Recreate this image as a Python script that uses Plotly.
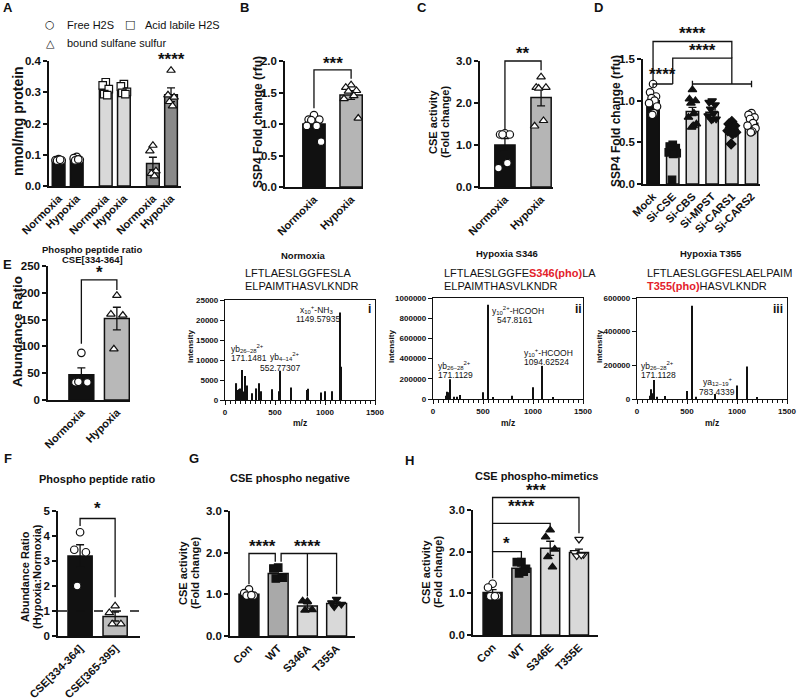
import plotly.graph_objects as go

W, H = 797, 699
FONT = "Liberation Sans, Arial, Helvetica, sans-serif"
BLACK = "#111111"
RED = "#e3212b"
LIGHT = "#d9d9d9"
MID = "#a9a9a9"
DARK = "#8a8a8a"

# ======================= DATA =======================
# Panel A
A_groups = ["Normoxia", "Hypoxia"]
A_series = ["Free H2S", "Acid labile H2S", "bound sulfane sulfur"]
A_mean = [[0.083, 0.086], [0.310, 0.305], [0.072, 0.292]]
A_sem = [[0.003, 0.004], [0.010, 0.007], [0.020, 0.022]]
A_pts = [
    [[0.086, 0.083, 0.082, 0.081, 0.084], [0.093, 0.089, 0.084, 0.082, 0.085]],
    [[0.332, 0.322, 0.310, 0.294, 0.291], [0.326, 0.319, 0.301, 0.298, 0.294]],
    [[0.130, 0.112, 0.048, 0.040, 0.032], [0.370, 0.291, 0.284, 0.270, 0.256]],
]
A_star = (0.408, "****")

# Panel B
B_cats = ["Normoxia", "Hypoxia"]
B_mean = [1.00, 1.46]
B_sem = [0.06, 0.07]
B_pts = [[1.14, 1.07, 1.07, 1.06, 0.97, 0.97, 0.72],
         [1.62, 1.58, 1.53, 1.52, 1.45, 1.40, 1.09]]
B_brackets = [(0, 1, 1.86, 1.25, 1.72)]
B_stars = [(0.5, 1.98, "***")]

# Panel C
C_cats = ["Normoxia", "Hypoxia"]
C_mean = [1.00, 2.13]
C_sem = [0.15, 0.20]
C_pts = [[1.28, 1.25, 1.25, 1.25, 0.57, 0.45],
         [2.62, 2.37, 2.37, 2.35, 1.58, 1.45]]
C_brackets = [(0, 1, 3.0, 1.35, 2.78)]
C_stars = [(0.5, 3.2, "**")]

# Panel D
D_cats = ["Mock", "Si-CSE", "Si-CBS", "Si-MPST", "Si-CARS1", "Si-CARS2"]
D_mean = [1.00, 0.36, 0.87, 0.86, 0.65, 0.73]
D_sem = [0.04, 0.04, 0.05, 0.03, 0.03, 0.03]
D_pts = [[1.20, 1.10, 1.05, 1.03, 1.00, 0.97, 0.93, 0.85, 0.83],
         [0.47, 0.45, 0.43, 0.42, 0.40, 0.38, 0.37, 0.36, 0.05],
         [1.13, 1.02, 1.00, 0.97, 0.85, 0.80, 0.72, 0.70, 0.68],
         [1.00, 0.98, 0.95, 0.90, 0.85, 0.82, 0.78, 0.78, 0.77],
         [0.75, 0.72, 0.70, 0.68, 0.66, 0.64, 0.62, 0.60, 0.48],
         [0.85, 0.83, 0.80, 0.78, 0.73, 0.70, 0.67, 0.63, 0.62]]
D_brackets = [(0, 1, 1.20, 1.16, 1.20), (1, 4, 1.51, 1.20, 1.20), (0, 4, 1.71, 1.24, 1.51)]
D_group = [(2, 5, 1.20, 0.04)]
D_stars = [(0.5, 1.32, "****"), (2.5, 1.61, "****"), (2.0, 1.82, "****")]

# Panel E (left)
E_cats = ["Normoxia", "Hypoxia"]
E_mean = [47, 152]
E_sem = [13, 21]
E_pts = [[88, 33, 33, 34], [195, 160, 158, 95]]
E_brackets = [(0, 1, 224, 105, 205)]
E_stars = [(0.5, 240, "*")]

# Spectra
S1_mz = [115, 125, 138, 148, 171.1, 187, 200, 220, 269, 315, 344, 364, 466, 475, 540,
         552.8, 662, 820, 830, 961, 1000, 1066, 1149.6, 1163]
S1_int = [4200, 2500, 2700, 2900, 7500, 2100, 6000, 3600, 1700, 2900, 4200, 2200, 2700, 1900, 2200,
          7300, 3100, 2500, 2800, 1900, 2200, 2200, 21900, 8300]
S2_mz = [127, 140, 160, 171.1, 207, 240, 273, 500, 547.8, 600, 793, 1000, 1094.6, 1200]
S2_int = [33000, 73000, 66000, 195000, 23000, 23000, 40000, 66000, 933000, 20000, 33000, 116000, 328000, 15000]
S3_mz = [127, 143, 160, 171.1, 200, 277, 500, 547, 593, 783.4, 1000, 1100, 1200]
S3_int = [20000, 58000, 34000, 113000, 14000, 18000, 48000, 554000, 14000, 30000, 80000, 193000, 10000]

# Panel F
F_cats = ["CSE[334-364]", "CSE[365-395]"]
F_mean = [3.20, 0.78]
F_sem = [0.45, 0.18]
F_pts = [[4.15, 3.45, 3.35, 2.00], [1.20, 0.93, 0.48, 0.48]]
F_ref = 1.0
F_brackets = [(0, 1, 4.7, 4.4, 1.55)]
F_stars = [(0.5, 5.16, "*")]

# Panel G
G_cats = ["Con", "WT", "S346A", "T355A"]
G_mean = [1.00, 1.50, 0.72, 0.78]
G_sem = [0.03, 0.05, 0.05, 0.04]
G_pts = [[1.12, 1.03, 0.97, 0.97, 0.98], [1.64, 1.62, 1.40, 1.38],
         [0.83, 0.84, 0.63, 0.62], [0.88, 0.80, 0.76, 0.70]]
G_brackets = [(0, 0.9, 1.98, 1.24, 1.78), (1.1, 3, 1.98, 1.78, 1.0)]
G_legs = [(2, 1.98, 0.95)]
G_stars = [(0.45, 2.18, "****"), (2.0, 2.18, "****")]

# Panel H
H_cats = ["Con", "WT", "S346E", "T355E"]
H_mean = [1.02, 1.60, 2.08, 1.98]
H_sem = [0.07, 0.06, 0.17, 0.08]
H_pts = [[1.23, 1.14, 0.93, 0.93, 0.93], [1.75, 1.75, 1.59, 1.48, 1.52],
         [2.52, 2.35, 2.06, 1.88, 1.63], [2.30, 1.98, 1.93, 1.90, 1.92]]
H_brackets = [(0, 1, 2.0, 1.36, 1.84), (0, 2, 2.68, 2.0, 2.6), (0, 3, 3.3, 2.68, 2.44)]
H_stars = [(0.5, 2.22, "*"), (1.0, 3.12, "****"), (1.5, 3.5, "***")]

# ======================= HELPERS =======================
JIT = [0.0, -0.24, 0.24, -0.12, 0.12, -0.32, 0.32, 0.06, -0.06]
traces = []
axes = {}
annotations = []
count = [0]


def add_axes(xbox, ybox, xr, yr, xs, ys):
    count[0] += 1
    n = count[0]
    s = "" if n == 1 else str(n)
    axes["xaxis" + s] = dict(domain=[xbox[0] / W, xbox[1] / W], range=list(xr),
                             anchor="y" + s, fixedrange=True, automargin=False, **xs)
    axes["yaxis" + s] = dict(domain=[1 - ybox[1] / H, 1 - ybox[0] / H], range=list(yr),
                             anchor="x" + s, fixedrange=True, automargin=False, **ys)
    return "x" + s, "y" + s


def fnt(size, bold=True, color=BLACK, family=FONT):
    return dict(family=family, size=size, color=color, weight="bold" if bold else "normal")


def ystyle(dtick, fmt, size=11.5):
    return dict(showline=True, linecolor=BLACK, linewidth=1.5, ticks="outside", ticklen=4,
                tickwidth=1.5, tickcolor=BLACK, tickmode="linear", tick0=0, dtick=dtick,
                tickformat=fmt, tickfont=fnt(size), showgrid=False, zeroline=False)


def xstyle(vals, texts, size=11):
    return dict(showline=True, linecolor=BLACK, linewidth=1.5, ticks="", tickmode="array",
                tickvals=vals, ticktext=texts, tickangle=-45, tickfont=fnt(size),
                showgrid=False, zeroline=False)


HID = dict(visible=False)


def text(x, y, t, size, bold=False, angle=0, xanchor="center", yanchor="middle", family=FONT):
    annotations.append(dict(x=x / W, y=1 - y / H, xref="paper", yref="paper", text=t,
                            showarrow=False, textangle=angle, xanchor=xanchor, yanchor=yanchor,
                            font=fnt(size, bold, family=family)))


def points(xa, ya, x, vals, sym, fill, bw, size=7.5):
    xs = [x + JIT[k % len(JIT)] * bw for k in range(len(vals))]
    traces.append(go.Scatter(x=xs, y=vals, mode="markers", cliponaxis=False,
                             marker=dict(symbol=sym, size=size, color=fill,
                                         line=dict(color=BLACK, width=1.2)),
                             xaxis=xa, yaxis=ya, showlegend=False, hoverinfo="skip"))


def overlay(xbox, ybox, xr, yr, extra=46):
    top = ybox[0] - extra
    scale = (yr[1] - yr[0]) / (ybox[1] - ybox[0])
    yr2 = [yr[0], yr[0] + scale * (ybox[1] - top)]
    return add_axes(xbox, (top, ybox[1]), xr, yr2, HID, HID)


def draw_sig(ox, oy, brackets=(), stars=(), legs=(), groups=()):
    for (a, b, h, la, lb) in brackets:
        traces.append(go.Scatter(x=[a, a, b, b], y=[la, h, h, lb], mode="lines",
                                 line=dict(color=BLACK, width=1.3), xaxis=ox, yaxis=oy,
                                 showlegend=False, hoverinfo="skip"))
    for (x, h, lo) in legs:
        traces.append(go.Scatter(x=[x, x], y=[h, lo], mode="lines",
                                 line=dict(color=BLACK, width=1.3), xaxis=ox, yaxis=oy,
                                 showlegend=False, hoverinfo="skip"))
    for (a, b, h, cap) in groups:
        traces.append(go.Scatter(x=[a, a, a, b, b, b], y=[h - cap, h + cap, h, h, h + cap, h - cap],
                                 mode="lines", line=dict(color=BLACK, width=1.3), xaxis=ox, yaxis=oy,
                                 showlegend=False, hoverinfo="skip"))
    for (x, y, t) in stars:
        annotations.append(dict(x=x, y=y, xref=ox, yref=oy, text=t, showarrow=False,
                                font=fnt(17), yshift=-1))


def bar_panel(xbox, ybox, xr, yr, dtick, fmt, labels, means, sems, colors, pts, syms, fills,
              bw, brackets=(), stars=(), legs=(), groups=()):
    xpos = list(range(len(labels)))
    xa, ya = add_axes(xbox, ybox, xr, yr, xstyle(xpos, labels), ystyle(dtick, fmt))
    traces.append(go.Bar(x=xpos, y=means, width=bw,
                         marker=dict(color=colors, line=dict(color=BLACK, width=1.5)),
                         error_y=dict(type="data", array=sems, color=BLACK, thickness=1.3, width=4),
                         xaxis=xa, yaxis=ya, showlegend=False, hoverinfo="skip"))
    for i, p in enumerate(pts):
        points(xa, ya, xpos[i], p, syms[i], fills[i], bw)
    ox, oy = overlay(xbox, ybox, xr, yr)
    draw_sig(ox, oy, brackets, stars, legs, groups)
    return xa, ya, ox, oy


# ======================= PANEL A =======================
A_box_x, A_box_y = (49, 181), (61, 186)
A_step = 2.6
A_xpos = [[s * A_step + g for g in range(len(A_groups))] for s in range(len(A_series))]
A_colors = [BLACK, LIGHT, DARK]
A_syms = ["circle", "square", "triangle-up"]
xa, ya = add_axes(A_box_x, A_box_y, (-0.53, 6.75), (0, 0.4),
                  xstyle([v for row in A_xpos for v in row], A_groups * len(A_series)),
                  ystyle(0.1, ".1f"))
for s in range(len(A_series)):
    traces.append(go.Bar(x=A_xpos[s], y=A_mean[s], width=0.7,
                         marker=dict(color=A_colors[s], line=dict(color=BLACK, width=1.5)),
                         error_y=dict(type="data", array=A_sem[s], color=BLACK, thickness=1.3, width=4),
                         xaxis=xa, yaxis=ya, showlegend=False, hoverinfo="skip"))
for s in range(len(A_series)):
    for g in range(len(A_groups)):
        points(xa, ya, A_xpos[s][g], A_pts[s][g], A_syms[s], "white", 0.7)
oxa, oya = overlay(A_box_x, A_box_y, (-0.53, 6.75), (0, 0.4))
draw_sig(oxa, oya, stars=[(A_xpos[2][1], A_star[0], A_star[1])])
text(18, 121, "nmol/mg protein", 14, True, -90)
# legend
text(50, 25, "○", 11, family="DejaVu Sans")
text(65, 25, A_series[0], 11, xanchor="left")
text(130, 25, "□", 11, family="DejaVu Sans")
text(143, 25, A_series[1], 11, xanchor="left")
text(50, 43, "△", 11, family="DejaVu Sans")
text(65, 43, A_series[2], 11, xanchor="left")

# ======================= PANEL B =======================
bar_panel((285, 363), (61, 187), (-0.78, 1.32), (0, 2.0), 0.5, ".1f", B_cats, B_mean, B_sem,
          [BLACK, "#b5b5b5"], B_pts, ["circle", "triangle-up"], ["white", "white"], 0.6,
          B_brackets, B_stars)
text(258, 122, "SSP4 Fold change (rfu)", 12, True, -90)

# ======================= PANEL C =======================
bar_panel((480, 553), (61, 187), (-0.69, 1.33), (0, 3.0), 1, ".1f", C_cats, C_mean, C_sem,
          [BLACK, "#b5b5b5"], C_pts, ["circle", "triangle-up"], ["white", "white"], 0.56,
          C_brackets, C_stars)
text(433, 122, "CSE activity", 11, True, -90)
text(445, 122, "(Fold change)", 11, True, -90)

# ======================= PANEL D =======================
bar_panel((643, 760), (59, 184), (-0.51, 5.43), (0, 1.5), 0.5, ".1f", D_cats, D_mean, D_sem,
          [BLACK, LIGHT, LIGHT, LIGHT, LIGHT, LIGHT], D_pts,
          ["circle", "square", "triangle-up", "triangle-down", "diamond", "circle"],
          ["white", BLACK, BLACK, BLACK, BLACK, "white"], 0.63,
          D_brackets, D_stars, groups=D_group)
text(616, 121, "SSP4 Fold change (rfu)", 12, True, -90)

# ======================= PANEL E =======================
bar_panel((48, 130), (266, 400), (-0.94, 1.37), (0, 250), 50, "d", E_cats, E_mean, E_sem,
          [BLACK, "#b8b8b8"], E_pts, ["circle", "triangle-up"], ["white", "white"], 0.7,
          E_brackets, E_stars)
text(17, 332, "Abundance Ratio", 13.5, True, -90)
text(92, 249, "Phospho peptide ratio", 9.5, True)
text(92, 259, "CSE[334-364]", 9.5, True)


# ======================= SPECTRA =======================
def spec_panel(xbox, ybox, ymax, ydtick, mz, inten):
    xs = dict(showline=True, mirror=True, linecolor=BLACK, linewidth=1.3, ticks="outside",
              ticklen=4, tickwidth=1.2, tickcolor=BLACK, tickmode="linear", tick0=0, dtick=500,
              tickfont=fnt(8), showgrid=False, zeroline=False,
              minor=dict(tickmode="linear", tick0=0, dtick=50, ticks="outside", ticklen=2.5,
                         tickwidth=1, tickcolor=BLACK, showgrid=False))
    ys = dict(showline=True, mirror=True, linecolor=BLACK, linewidth=1.3, ticks="outside",
              ticklen=4, tickwidth=1.2, tickcolor=BLACK, tickmode="linear", tick0=0, dtick=ydtick,
              tickformat="d", tickfont=fnt(8), showgrid=False, zeroline=False)
    xa, ya = add_axes(xbox, ybox, (0, 1500), (0, ymax), xs, ys)
    traces.append(go.Bar(x=mz, y=inten, width=11, marker=dict(color=BLACK, line=dict(width=0)),
                         xaxis=xa, yaxis=ya, showlegend=False, hoverinfo="skip"))
    return xa, ya


spec_panel((225, 375), (300, 400), 25000, 5000, S1_mz, S1_int)
spec_panel((433, 583), (298, 399), 1000000, 200000, S2_mz, S2_int)
spec_panel((637, 787), (298, 399), 600000, 200000, S3_mz, S3_int)

# spectrum titles / sequences
text(303, 255, "Normoxia", 9.5, True)
text(507, 254, "Hypoxia S346", 9.5, True)
text(711, 254, "Hypoxia T355", 9.5, True)
text(243, 273, "LFTLAESLGGFESLA", 11, xanchor="left")
text(243, 286, "ELPAIMTHASVLKNDR", 11, xanchor="left")
text(442, 273, "LFTLAESLGGFE<span style='color:%s'><b>S346(pho)</b></span>LA" % RED, 11, xanchor="left")
text(442, 286, "ELPAIMTHASVLKNDR", 11, xanchor="left")
text(645, 273, "LFTLAESLGGFESLAELPAIM", 11, xanchor="left")
text(645, 286, "<span style='color:%s'><b>T355(pho)</b></span>HASVLKNDR" % RED, 11, xanchor="left")
for cx, ax_x in [(190, 300), (391, 508), (599, 712)]:
    text(cx, 347, "Intensity", 8, True, -90)
    text(ax_x, 423, "m/z", 8.5, True)
# spectrum peak labels
text(316, 309, "x<sub>10</sub><sup>+</sup>-NH<sub>3</sub>", 8.5)
text(318, 319, "1149.57935", 8.5)
text(229, 348, "yb<sub>26–28</sub><sup>2+</sup>", 8.5, xanchor="left")
text(229, 358, "171.1481", 8.5, xanchor="left")
text(268, 356, "yb<sub>4–14</sub><sup>2+</sup>", 8.5, xanchor="left")
text(280, 368, "552.77307", 8.5)
text(369, 309, "i", 12, True)
text(490, 310, "y<sub>10</sub><sup>2+</sup>-HCOOH", 8.5, xanchor="left")
text(515, 320, "547.8161", 8.5)
text(548, 352, "y<sub>10</sub><sup>+</sup>-HCOOH", 8.5)
text(546, 362, "1094.62524", 8.5)
text(436, 365, "yb<sub>26–28</sub><sup>2+</sup>", 8.5, xanchor="left")
text(436, 375, "171.1129", 8.5, xanchor="left")
text(578, 309, "ii", 12, True)
text(639, 365, "yb<sub>26–28</sub><sup>2+</sup>", 8.5, xanchor="left")
text(639, 375, "171.1128", 8.5, xanchor="left")
text(718, 381, "ya<sub>12–19</sub><sup>+</sup>", 8.5)
text(717, 392, "783.4339", 8.5)
text(778, 309, "iii", 12, True)

# ======================= PANEL F =======================
fxa, fya, fox, foy = bar_panel((58, 140), (511, 636), (-0.63, 1.71), (0, 5), 1, "d", F_cats, F_mean,
                               F_sem, [BLACK, "#bdbdbd"], F_pts, ["circle", "triangle-up"],
                               ["white", "white"], 0.69, F_brackets, F_stars)
traces.append(go.Scatter(x=[-0.63, 1.71], y=[F_ref, F_ref], mode="lines",
                         line=dict(color=BLACK, width=1.3, dash="dash"), xaxis=fxa, yaxis=fya,
                         showlegend=False, hoverinfo="skip"))
text(97, 479, "Phospho peptide ratio", 11, True)
text(25, 577, "Abundance Ratio", 11, True, -90)
text(37, 577, "(Hypoxia:Normoxia)", 11, True, -90)

# ======================= PANEL G =======================
bar_panel((230, 355), (511, 636), (-0.65, 3.63), (0, 3.0), 1, ".1f", G_cats, G_mean, G_sem,
          [BLACK, MID, LIGHT, LIGHT], G_pts,
          ["circle", "square", "triangle-up", "triangle-down"],
          ["white", BLACK, BLACK, BLACK], 0.68, G_brackets, G_stars, legs=G_legs)
text(290, 478, "CSE phospho negative", 11, True)
text(183, 573, "CSE activity", 11, True, -90)
text(195, 573, "(Fold change)", 11, True, -90)

# ======================= PANEL H =======================
bar_panel((473, 598), (510, 635), (-0.68, 3.66), (0, 3.0), 1, ".1f", H_cats, H_mean, H_sem,
          [BLACK, MID, LIGHT, LIGHT], H_pts,
          ["circle", "square", "triangle-up", "triangle-down"],
          ["white", BLACK, BLACK, "white"], 0.66, H_brackets, H_stars)
text(536, 476, "CSE phospho-mimetics", 11, True)
text(426, 572, "CSE activity", 11, True, -90)
text(438, 572, "(Fold change)", 11, True, -90)

# ======================= PANEL LETTERS =======================
for lx, ly, lt in [(8, 8, "A"), (244, 8, "B"), (422, 8, "C"), (598, 8, "D"),
                   (8, 264, "E"), (8, 458, "F"), (194, 458, "G"), (409, 460, "H")]:
    text(lx, ly, lt, 13, True)

fig = go.Figure(data=traces)
fig.update_layout(template="none", width=W, height=H, margin=dict(l=0, r=0, t=0, b=0, pad=0),
                  autosize=False, paper_bgcolor="white", plot_bgcolor="rgba(0,0,0,0)",
                  barmode="overlay", showlegend=False, annotations=annotations,
                  font=dict(family=FONT, color=BLACK), **axes)
fig.write_html("out.html", config={"displayModeBar": False},
               post_script="document.body.style.margin='0';document.body.style.padding='0';")
